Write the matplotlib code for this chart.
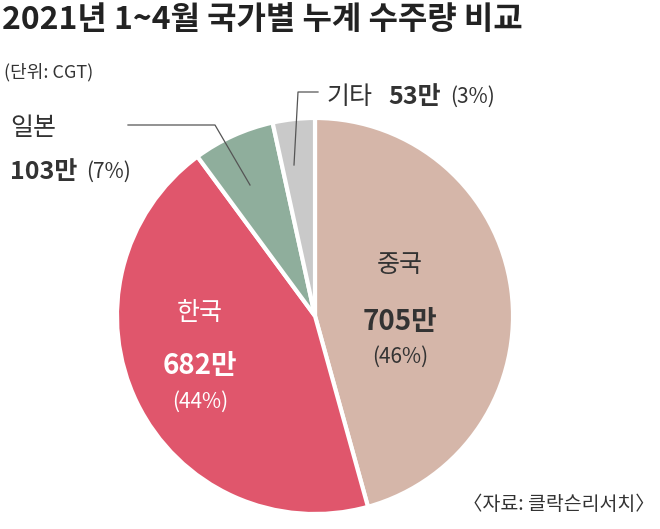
import matplotlib
matplotlib.use("Agg")
import matplotlib.pyplot as plt

plt.rcParams['font.family'] = ['Noto Sans CJK KR', 'DejaVu Sans']

countries = ["중국", "한국", "일본", "기타"]
values = [705, 682, 103, 53]
amount_labels = ["705만", "682만", "103만", "53만"]
pct_labels = ["(46%)", "(44%)", "(7%)", "(3%)"]
colors = ["#d5b6a9", "#e0566c", "#8fae9c", "#c9c9c9"]

W, H = 660, 529
fig = plt.figure(figsize=(6.6, 5.29), dpi=100)

def fx(px):
    return px / W

def fy(py):
    return 1 - py / H

# pie centred at (315, 316), radius 200 px
ax = fig.add_axes([fx(115), fy(516), 400 / W, 400 / H])
ax.pie(values, colors=colors, startangle=90, counterclock=False,
       wedgeprops=dict(edgecolor="white", linewidth=3))
ax.set_xlim(-1.01, 1.01)
ax.set_ylim(-1.01, 1.01)
ax.set_aspect("equal")

fig.text(fx(2), fy(20), "2021년 1~4월 국가별 누계 수주량 비교", fontsize=23,
         fontweight="bold", va="center", ha="left", color="#222")
fig.text(fx(4), fy(72), "(단위: CGT)", fontsize=13, va="center", color="#333")
fig.text(fx(655), fy(505), "〈자료: 클락슨리서치〉", fontsize=14, va="center",
         ha="right", color="#333")

# China
fig.text(fx(400), fy(265), countries[0], fontsize=18, ha="center", va="center", color="#333")
fig.text(fx(400), fy(322), amount_labels[0], fontsize=20, fontweight="bold",
         ha="center", va="center", color="#333")
fig.text(fx(400), fy(357), pct_labels[0], fontsize=15, ha="center", va="center", color="#333")
# Korea
fig.text(fx(200), fy(313), countries[1], fontsize=18, ha="center", va="center", color="white")
fig.text(fx(200), fy(366), amount_labels[1], fontsize=20, fontweight="bold",
         ha="center", va="center", color="white")
fig.text(fx(200), fy(402), pct_labels[1], fontsize=15, ha="center", va="center", color="white")
# Japan
fig.text(fx(10), fy(128), countries[2], fontsize=18, ha="left", va="center", color="#333")
fig.text(fx(10), fy(172), amount_labels[2], fontsize=18, fontweight="bold",
         ha="left", va="center", color="#333")
fig.text(fx(86), fy(172), pct_labels[2], fontsize=15, ha="left", va="center", color="#333")
# Other
fig.text(fx(326), fy(97), countries[3], fontsize=18, ha="left", va="center", color="#333")
fig.text(fx(388), fy(97), amount_labels[3], fontsize=18, fontweight="bold",
         ha="left", va="center", color="#333")
fig.text(fx(450), fy(97), pct_labels[3], fontsize=15, ha="left", va="center", color="#333")

# leader lines
fig.add_artist(plt.Line2D([fx(128), fx(215), fx(250)], [fy(125), fy(125), fy(185)],
                          color="#555", lw=0.9))
fig.add_artist(plt.Line2D([fx(318), fx(298), fx(294)], [fy(92), fy(92), fy(165)],
                          color="#555", lw=0.9))

fig.savefig("out.png", dpi=100)
